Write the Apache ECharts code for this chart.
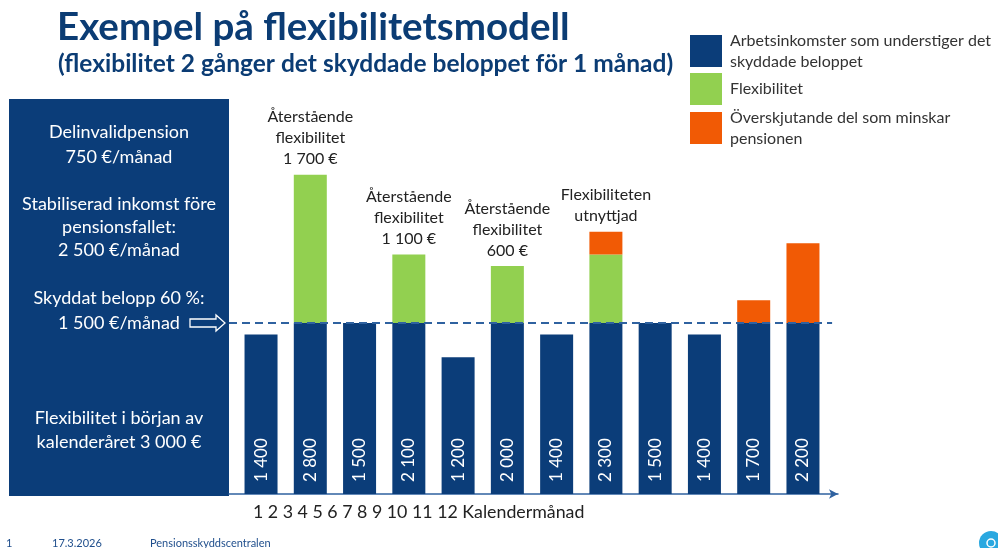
<!DOCTYPE html>
<html>
<head>
<meta charset="utf-8">
<title>Exempel på flexibilitetsmodell</title>
<script src="https://cdn.jsdelivr.net/npm/echarts@6/dist/echarts.min.js"></script>
<style>
  html, body { margin: 0; padding: 0; background: #fff; }
  #chart { width: 998px; height: 548px; }
</style>
</head>
<body>
<div id="chart"></div>
<script>
  // kalendermånader
  const months = ['1', '2', '3', '4', '5', '6', '7', '8', '9', '10', '11', '12'];
  // arbetsinkomst per månad (€)
  const income = [1400, 2800, 1500, 2100, 1200, 2000, 1400, 2300, 1500, 1400, 1700, 2200];
  // delar av stapeln
  const workPart = [1400, 1500, 1500, 1500, 1200, 1500, 1400, 1500, 1500, 1400, 1500, 1500];
  const flexPart = [0, 1300, 0, 600, 0, 500, 0, 600, 0, 0, 0, 0];
  const overPart = [0, 0, 0, 0, 0, 0, 0, 200, 0, 0, 200, 700];
  const notes = ['', 'Återstående\nflexibilitet\n1 700 €', '', 'Återstående\nflexibilitet\n1 100 €', '',
    'Återstående\nflexibilitet\n600 €', '', 'Flexibiliteten\nutnyttjad', '', '', '', ''];
  const protectedAmount = 1500;
  const seriesNames = ['Arbetsinkomster som understiger det\nskyddade beloppet', 'Flexibilitet',
    'Överskjutande del som minskar\npensionen'];

  const FONT = 'Lato, "Noto Sans", sans-serif';
  const BLUE = '#0b3d79';
  const GREEN = '#92d050';
  const ORANGE = '#f15a05';
  const LINE = '#2f62a0';

  const fmt = n => String(n).replace(/\B(?=(\d{3})+(?!\d))/g, ' ');

  function boxText(text, y) {
    return {
      type: 'text', x: 119, y: y, silent: true,
      style: { text: text, fill: '#fff', font: '18px ' + FONT, align: 'center', verticalAlign: 'middle' }
    };
  }
  function plainText(text, x, y, font, color) {
    return {
      type: 'text', x: x, y: y, silent: true,
      style: { text: text, fill: color, font: font, align: 'left', verticalAlign: 'middle' }
    };
  }

  const chart = echarts.init(document.getElementById('chart'));
  const option = {
    animation: false,
    title: [
      { text: 'Exempel på flexibilitetsmodell', left: 52, top: 3,
        textStyle: { fontFamily: FONT, fontSize: 38.5, fontWeight: 'bold', color: '#0b3c74' } },
      { text: '(flexibilitet 2 gånger det skyddade beloppet för 1 månad)', left: 53, top: 47,
        textStyle: { fontFamily: FONT, fontSize: 24.5, fontWeight: 'bold', color: '#0b3c74' } }
    ],
    legend: seriesNames.map((name, i) => ({
      data: [name],
      left: 690,
      top: [30, 73, 107][i],
      orient: 'vertical',
      padding: 0,
      itemWidth: 32,
      itemHeight: 32,
      icon: 'rect',
      selectedMode: false,
      textStyle: { fontFamily: FONT, fontSize: 16, lineHeight: 21, color: '#333', padding: [0, 0, 0, 3] }
    })),
    grid: [
      { left: 236.4, right: 170.4, top: 152, bottom: 54, outerBoundsMode: 'none' },
      { left: 229, right: 160, top: 152, bottom: 54, outerBoundsMode: 'none' }
    ],
    xAxis: [
      { type: 'category', gridIndex: 0, data: months, show: false },
      {
        type: 'value', gridIndex: 1, min: 0.35, max: 12.72,
        axisLine: { show: true, symbol: ['none', 'arrow'], symbolSize: [7, 9], lineStyle: { color: LINE, width: 1.5 } },
        axisTick: { show: false }, axisLabel: { show: false }, splitLine: { show: false }
      }
    ],
    yAxis: [
      { type: 'value', gridIndex: 0, min: 0, max: 3000, show: false },
      { type: 'value', gridIndex: 1, min: 0, max: 3000, show: false }
    ],
    graphic: [
      { type: 'rect', shape: { x: 9, y: 99, width: 220, height: 397 }, style: { fill: BLUE }, silent: true },
      boxText('Delinvalidpension', 132),
      boxText('750 €/månad', 157),
      boxText('Stabiliserad inkomst före', 204),
      boxText('pensionsfallet:', 227),
      boxText('2 500 €/månad', 250),
      boxText('Skyddat belopp 60 %:', 298),
      boxText('1 500 €/månad', 323),
      boxText('Flexibilitet i början av', 418),
      boxText('kalenderåret 3 000 €', 442),
      {
        type: 'polygon', silent: true,
        shape: { points: [[190, 319], [216, 319], [216, 315], [225, 323], [216, 331], [216, 327], [190, 327]] },
        style: { fill: 'none', stroke: '#fff', lineWidth: 1.3 }
      },
      plainText(months.join(' ') + ' Kalendermånad', 253, 512, '17.8px ' + FONT, '#222'),
      plainText('1', 6, 543, '11px ' + FONT, '#1f4e8c'),
      plainText('17.3.2026', 52, 543, '11px ' + FONT, '#1f4e8c'),
      plainText('Pensionsskyddscentralen', 150, 543, '11px ' + FONT, '#1f4e8c'),
      { type: 'circle', shape: { cx: 991, cy: 543, r: 12 }, style: { fill: '#2aa8e0' }, silent: true },
      { type: 'circle', shape: { cx: 991, cy: 543, r: 4 }, style: { fill: 'none', stroke: '#fff', lineWidth: 1.5 }, silent: true }
    ],
    series: [
      {
        name: seriesNames[0], type: 'bar', stack: 'month', barWidth: 33,
        xAxisIndex: 0, yAxisIndex: 0,
        data: workPart,
        itemStyle: { color: BLUE },
        label: {
          show: true, position: 'insideBottom', rotate: 90, align: 'left', verticalAlign: 'middle',
          distance: 12, color: '#fff', fontFamily: FONT, fontSize: 17,
          formatter: p => fmt(income[p.dataIndex])
        }
      },
      {
        name: seriesNames[1], type: 'bar', stack: 'month', barWidth: 33,
        xAxisIndex: 0, yAxisIndex: 0,
        data: flexPart,
        itemStyle: { color: GREEN },
        label: {
          show: true, position: 'top', distance: 5, color: '#222', fontFamily: FONT, fontSize: 16, lineHeight: 21,
          formatter: p => (flexPart[p.dataIndex] > 0 && overPart[p.dataIndex] === 0) ? notes[p.dataIndex] : ''
        }
      },
      {
        name: seriesNames[2], type: 'bar', stack: 'month', barWidth: 33,
        xAxisIndex: 0, yAxisIndex: 0,
        data: overPart,
        itemStyle: { color: ORANGE },
        label: {
          show: true, position: 'top', distance: 5, color: '#222', fontFamily: FONT, fontSize: 16, lineHeight: 21,
          formatter: p => overPart[p.dataIndex] > 0 ? notes[p.dataIndex] : ''
        }
      },
      {
        // skyddat belopp, streckad linje
        type: 'line', xAxisIndex: 1, yAxisIndex: 1, data: [], silent: true,
        markLine: {
          silent: true, symbol: 'none', label: { show: false },
          lineStyle: { type: [8, 5], color: LINE, width: 2 },
          data: [[{ coord: [0.35, protectedAmount] }, { coord: [12.6, protectedAmount] }]]
        }
      }
    ]
  };
  chart.setOption(option);
</script>
</body>
</html>
